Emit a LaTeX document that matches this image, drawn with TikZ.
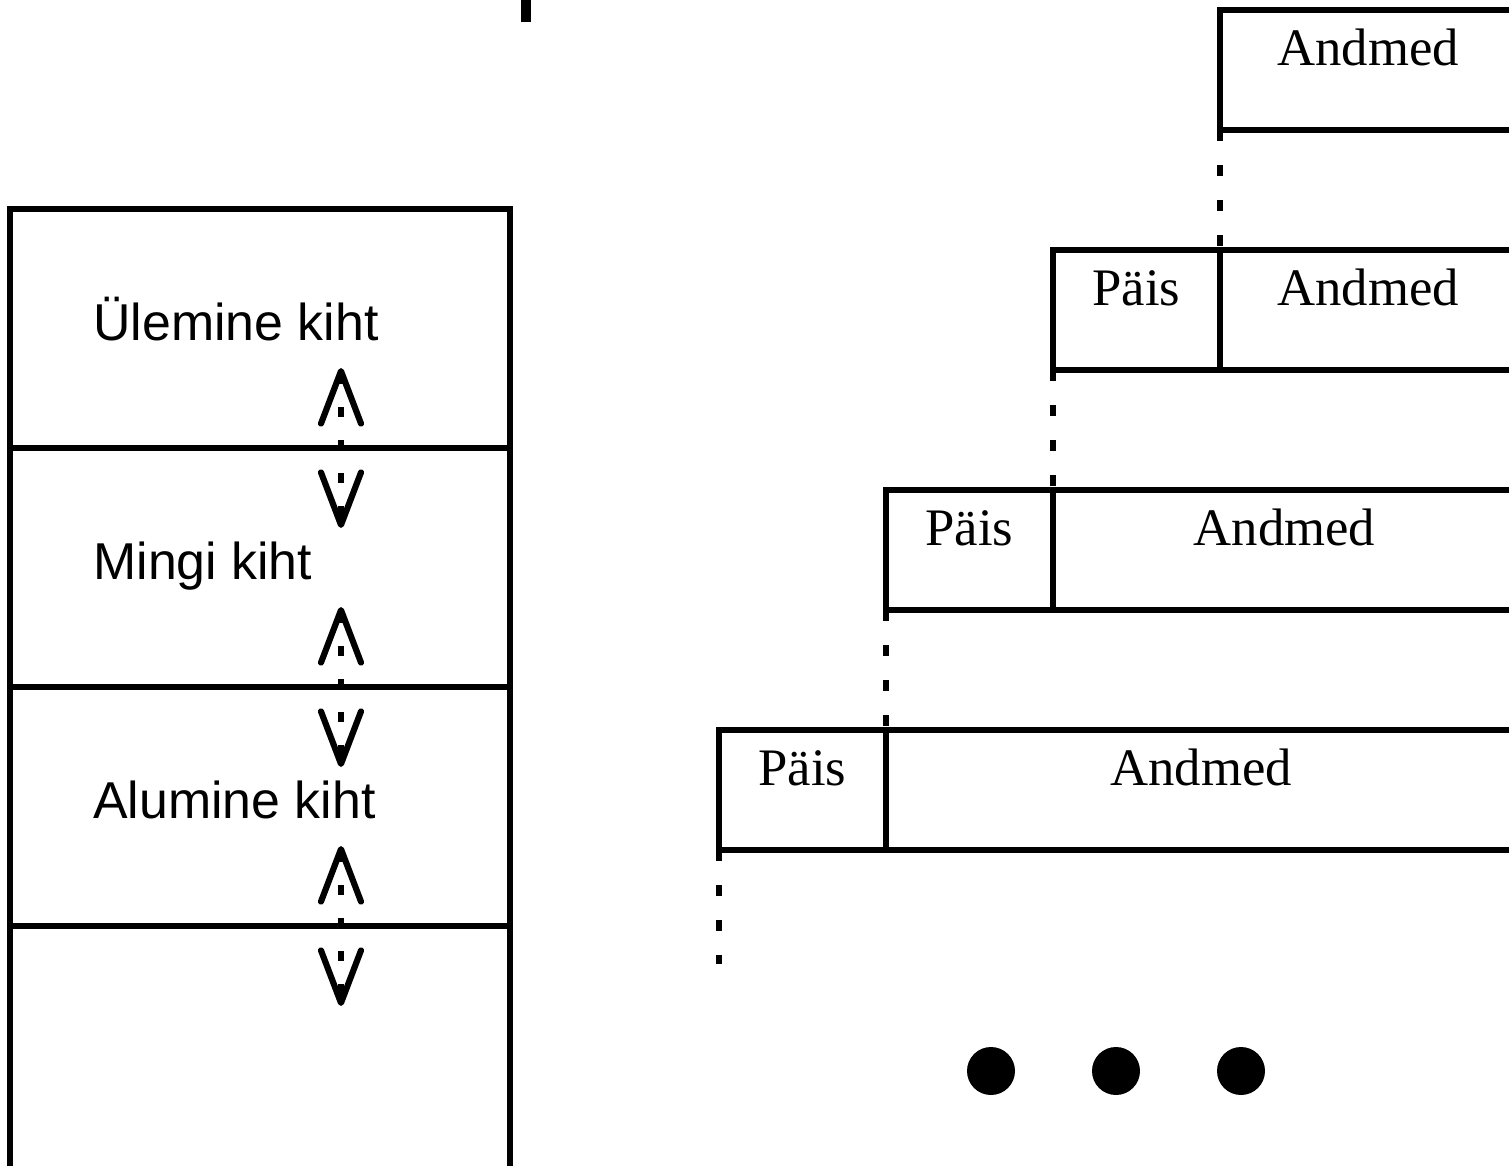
\documentclass[tikz,border=0pt]{standalone}
\usepackage{fontspec}
\setmainfont{Liberation Serif}
\newfontfamily\layerfont{Liberation Sans}
\usetikzlibrary{arrows.meta, positioning}
\tikzset{
  layerbox/.style={rectangle, draw, line width=3.4pt, outer sep=0pt, inner sep=0pt,
    minimum width=10cm, minimum height=4.78cm},
  layertext/.style={anchor=base west, inner sep=0pt,
    font=\layerfont\fontsize{29.5}{34}\selectfont},
  cellbox/.style={rectangle, draw, line width=3.1pt, outer sep=0pt, inner sep=0pt,
    minimum height=2.4cm, text height=1.1cm, text depth=1.3cm,
    font=\fontsize{30}{36}\selectfont},
  paisbox/.style={cellbox, minimum width=3.34cm},
  layerarrow/.style={<->, >={Straight Barb[length=1.05cm, width=0.8cm, round]},
    line width=3.5pt, dash pattern=on 0.2cm off 0.46cm},
  dotline/.style={line width=3.8pt, dash pattern=on 0.22cm off 0.48cm},
  dotbox/.style={circle, fill, minimum size=0.96cm, inner sep=0pt, outer sep=0pt}
}
\begin{document}
\begin{tikzpicture}
  \useasboundingbox (0,0) rectangle (30.18,-23.32);
  \clip (0,0) rectangle (30.18,-23.32);

  % layer stack
  \node[layerbox, anchor=north west] (ulemine) at (0.2,-4.18) {};
  \node[layerbox, below=0pt of ulemine] (mingi) {};
  \node[layerbox, below=0pt of mingi] (alumine) {};
  \node[layerbox, below=0pt of alumine, minimum height=5.4cm] (fyysiline) {};

  \node[layertext] (ulemine-t) at ([shift={(1.66,-2.62)}]ulemine.north west) {Ülemine kiht};
  \node[layertext] (mingi-t) at ([shift={(1.66,-2.62)}]mingi.north west) {Mingi kiht};
  \node[layertext] (alumine-t) at ([shift={(1.66,-2.62)}]alumine.north west) {Alumine kiht};

  % arrows between layers
  \coordinate (ulemine-a) at ([xshift=6.62cm, yshift=1.6cm]ulemine.south west);
  \coordinate (mingi-b) at ([xshift=6.62cm, yshift=-1.6cm]ulemine.south west);
  \coordinate (mingi-a) at ([xshift=6.62cm, yshift=1.6cm]mingi.south west);
  \coordinate (alumine-b) at ([xshift=6.62cm, yshift=-1.6cm]mingi.south west);
  \coordinate (alumine-a) at ([xshift=6.62cm, yshift=1.6cm]alumine.south west);
  \coordinate (fyysiline-b) at ([xshift=6.62cm, yshift=-1.6cm]alumine.south west);
  \draw[layerarrow] (ulemine-a) -- (mingi-b);
  \draw[layerarrow] (mingi-a) -- (alumine-b);
  \draw[layerarrow] (alumine-a) -- (fyysiline-b);

  % packets
  \node[cellbox, minimum width=5.92cm, anchor=north west] (andmed1) at (24.4,-0.2) {Andmed};
  \node[paisbox, anchor=north east] (pais2) at ([yshift=-2.4cm]andmed1.south west) {Päis};
  \node[cellbox, minimum width=5.92cm, right=0pt of pais2] (andmed2) {Andmed};
  \node[paisbox, anchor=north east] (pais3) at ([yshift=-2.4cm]pais2.south west) {Päis};
  \node[cellbox, minimum width=9.26cm, right=0pt of pais3] (andmed3) {Andmed};
  \node[paisbox, anchor=north east] (pais4) at ([yshift=-2.4cm]pais3.south west) {Päis};
  \node[cellbox, minimum width=12.6cm, right=0pt of pais4] (andmed4) {Andmed};
  \coordinate[below=2.28cm of pais4.south west] (pais4-end);

  \draw[dotline] (andmed1.south west) -- (pais2.north east);
  \draw[dotline] (pais2.south west) -- (pais3.north east);
  \draw[dotline] (pais3.south west) -- (pais4.north east);
  \draw[dotline] (pais4.south west) -- (pais4-end);

  % dots
  \node[dotbox] (dot1) at (19.82,-21.42) {};
  \node[dotbox, right=1.54cm of dot1] (dot2) {};
  \node[dotbox, right=1.54cm of dot2] (dot3) {};

  % cut-off mark at the top
  \fill (10.42,0) rectangle (10.62,-0.44);
\end{tikzpicture}
\end{document}
